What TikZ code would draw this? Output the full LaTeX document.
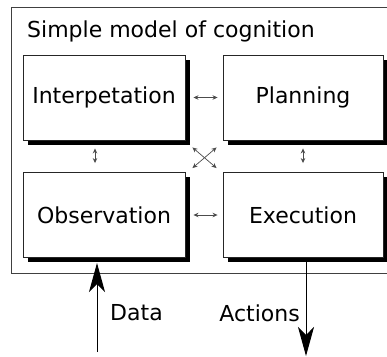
\documentclass[tikz,border=0pt]{standalone}
\usepackage{fontspec}
\setmainfont{DejaVu Sans}
\usetikzlibrary{arrows.meta,shadows}
\begin{document}
\begin{tikzpicture}[x=1pt,y=-1pt,
  stagebox/.style={draw=black!85, line width=0.9pt, fill=white,
    minimum width=162pt, minimum height=85pt, inner sep=0pt,
    font=\fontsize{22}{26}\selectfont,
    drop shadow={shadow xshift=4.5pt, shadow yshift=-4.5pt, fill=black, opacity=1}},
  link/.style={draw=black!70, line width=0.7pt,
    {Stealth[length=5pt,width=4.5pt]}-{Stealth[length=5pt,width=4.5pt]}},
  flow/.style={draw=black, line width=1pt,
    -{Stealth[length=29pt,width=16pt,inset=8pt]}},
  caption/.style={font=\fontsize{22}{26}\selectfont, inner sep=0pt}]
\useasboundingbox (0,0) rectangle (387,356);
\clip (0,0) rectangle (387,356);
\fill[white] (0,0) rectangle (387,356);

% enclosing frame and its title
\draw[black!75, line width=1pt] (11,7) rectangle (400,273);
\node[caption, anchor=base west] (title) at (27,37) {Simple model of cognition};

% the four stages
\node[stagebox] (interp) at (104,97.5) {Interpetation};
\node[stagebox, minimum width=160pt] (plan) at (303,97.5) {Planning};
\node[stagebox] (obs) at (104,215) {Observation};
\node[stagebox, minimum width=160pt] (exec) at (303,215) {Execution};

% links between stages (yshift is measured upwards)
\draw[link] ([xshift=8pt]interp.east) -- ([xshift=-5pt]plan.west);
\draw[link] ([xshift=8pt]obs.east) -- ([xshift=-5pt]exec.west);
\draw[link] ([xshift=-9pt,yshift=-8pt]interp.south) -- ([xshift=-9pt,yshift=9pt]obs.north);
\draw[link] ([yshift=-8pt]plan.south) -- ([yshift=9pt]exec.north);
\draw[link] ([xshift=7pt,yshift=-7pt]interp.south east) -- ([xshift=-6pt,yshift=4pt]exec.north west);
\draw[link] ([xshift=7pt,yshift=4pt]obs.north east) -- ([xshift=-6pt,yshift=-7pt]plan.south west);

% input and output
\coordinate (datain) at (97,352);
\coordinate (dataend) at (97,263);
\coordinate (actstart) at (306,258);
\coordinate (actout) at (306,356);
\draw[flow] (datain) -- (dataend);
\draw[flow] (actstart) -- (actout);
\node[caption, anchor=west] (datalbl) at (110,313) {Data};
\node[caption, anchor=east] (actlbl) at (300,313) {Actions};
\end{tikzpicture}
\end{document}
